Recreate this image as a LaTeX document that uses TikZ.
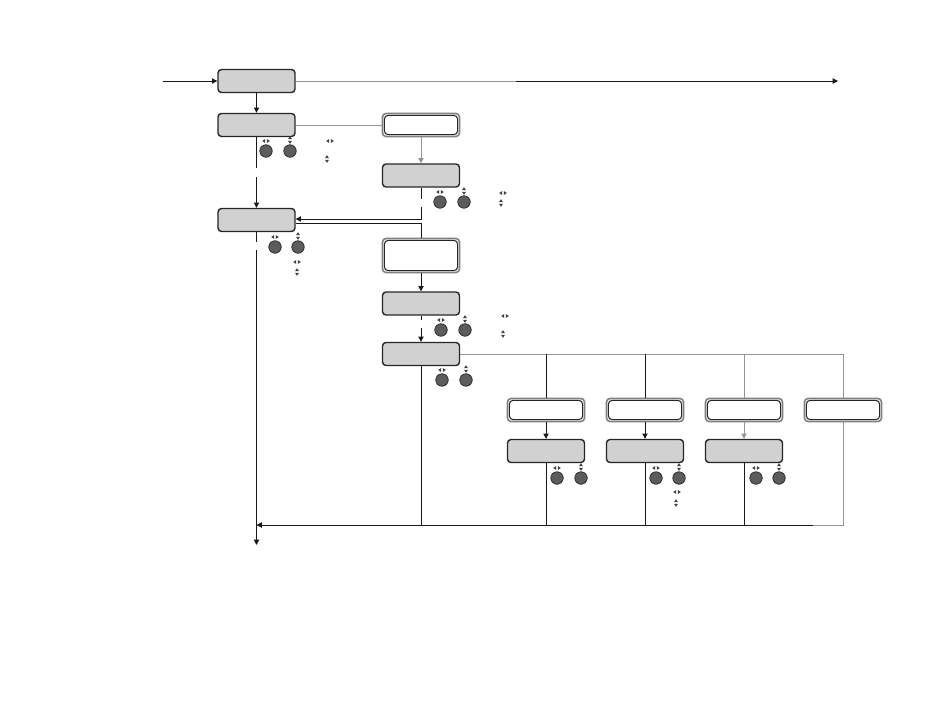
\documentclass[tikz,border=0pt]{standalone}
\usepackage{tikz}
\usetikzlibrary{arrows.meta,positioning,calc}
\tikzset{
  lcbox/.style={
    rectangle, rounded corners=2pt, draw=black!85, fill=black!18,
    line width=0.8pt, minimum width=1.54cm, minimum height=0.46cm, inner sep=0pt
  },
  lcframe/.style={
    rectangle, rounded corners=2pt, draw=black!50, fill=white, line width=0.9pt,
    path picture={
      \draw[black!85, line width=0.6pt]
        ([shift={(1.1pt,-1.1pt)}]path picture bounding box.north west) rectangle
        ([shift={(-1.1pt,1.1pt)}]path picture bounding box.south east);
    },
    minimum width=1.54cm, minimum height=0.46cm, inner sep=0pt
  },
  lcknob/.style={circle, draw=black!85, fill=black!64, line width=0.4pt,
    minimum size=0.25cm, inner sep=0pt},
  lcline/.style={line width=0.55pt, draw=black!90},
  lcgray/.style={line width=0.55pt, draw=black!42},
  lcedge/.style={lcline, -{Triangle[length=3pt,width=3pt]}},
  lcgrayedge/.style={lcgray, -{Triangle[length=3pt,width=3pt]}},
  lrmark/.pic={
    \fill[black!75] (-0.8,-2) -- (-3.8,0) -- (-0.8,2) -- cycle;
    \fill[black!75] (0.8,-2) -- (3.8,0) -- (0.8,2) -- cycle;
  },
  udmark/.pic={
    \fill[black!75] (-2,-0.8) -- (0,-3.8) -- (2,-0.8) -- cycle;
    \fill[black!75] (-2,0.8) -- (0,3.8) -- (2,0.8) -- cycle;
  }
}
\begin{document}
\begin{tikzpicture}[x=0.02cm,y=-0.02cm]
\useasboundingbox (0,0) rectangle (950,710);
% left column
\node[lcbox] (d0) at (256.5,81) {};
\node[lcbox] (d1) at (256.5,125) {};
\node[lcbox] (d3) at (256.5,220) {};
% middle column
\node[lcframe] (c0) at (421,125) {};
\node[lcbox] (d2) at (421,175.5) {};
\node[lcframe,minimum height=0.68cm] (f0) at (421,255.5) {};
\node[lcbox] (d4) at (421,303.5) {};
\node[lcbox] (d5) at (421,354) {};
% branch row
\node[lcframe] (w1) at (546,410) {};
\node[lcframe] (w2) at (645,410) {};
\node[lcframe] (w3) at (744,410) {};
\node[lcframe] (w4) at (843,410) {};
\node[lcbox] (g1) at (546,451) {};
\node[lcbox] (g2) at (645,451) {};
\node[lcbox] (g3) at (744,451) {};

\coordinate (in) at (163,81);
\coordinate (out) at (838,81);
\coordinate (mid) at (516,81);
\draw[lcedge] (in) -- (d0);
\draw[lcgray] (d0.east) -- (mid);
\draw[lcedge] (mid) -- (out);
\draw[lcedge] (d0) -- (d1);
\draw[lcgray] (d1) -- (c0);
% d1 down to d3, broken
\draw[lcline] (d1.south) -- (256.5,168);
\draw[lcedge] (256.5,177) -- (d3.north);
\draw[lcgrayedge] (c0) -- (d2);
% d2 back to d3
\coordinate (j1) at (421,219);
\coordinate (j2) at (421,223.5);
\draw[lcline] (d2.south) -- (421,199);
\draw[lcedge] (421,207) -- (j1) -- (j1 -| d3.east);
\draw[lcline] (j2 -| d3.east) -- (j2) -- (f0.north);
\draw[lcedge] (f0) -- (d4);
\draw[lcline] (d4.south) -- (421,320);
\draw[lcedge] (421,328) -- (d5.north);
% branches
\draw[lcgray] (d5.east) -- (d5.east -| w4.north);
\draw[lcline] (d5.east -| w1.north) -- (w1.north);
\draw[lcline] (d5.east -| w2.north) -- (w2.north);
\draw[lcgray] (d5.east -| w3.north) -- (w3.north);
\draw[lcgray] (d5.east -| w4.north) -- (w4.north);
\draw[lcedge] (w1) -- (g1);
\draw[lcedge] (w2) -- (g2);
\draw[lcgrayedge] (w3) -- (g3);
% return line
\coordinate (br) at (843,525);
\coordinate (bm) at (813,525);
\coordinate (bl) at (256.5,525);
\draw[lcgray] (w4.south) -- (br) -- (bm);
\draw[lcedge] (bm) -- (bl);
\foreach \n in {d5,g1,g2,g3}
  \draw[lcline] (\n.south) -- (\n.south |- br);
\draw[lcline] (d3.south) -- (256.5,242);
\draw[lcedge] (256.5,250) -- (256.5,545);
% knobs
\foreach \n/\xa/\xb/\ky in {1/266/290/151, 2/275/298/247, 3/440/464/202,
    4/441/465/330, 5/442/466/380, 6/557/581/478, 7/656/679/478, 8/756/779/478}{
  \node[lcknob] (ka\n) at (\xa,\ky) {};
  \node[lcknob] (kb\n) at (\xb,\ky) {};
  \pic at (\xa,\ky-10) {lrmark};
  \pic at (\xb,\ky-11) {udmark};
}
\pic at (330,141) {lrmark};
\pic at (327,159) {udmark};
\pic at (297,262) {lrmark};
\pic at (297,272) {udmark};
\pic at (503,193) {lrmark};
\pic at (501,203) {udmark};
\pic at (505,316) {lrmark};
\pic at (503,334) {udmark};
\pic at (677,492) {lrmark};
\pic at (676,503) {udmark};
\end{tikzpicture}
\end{document}
